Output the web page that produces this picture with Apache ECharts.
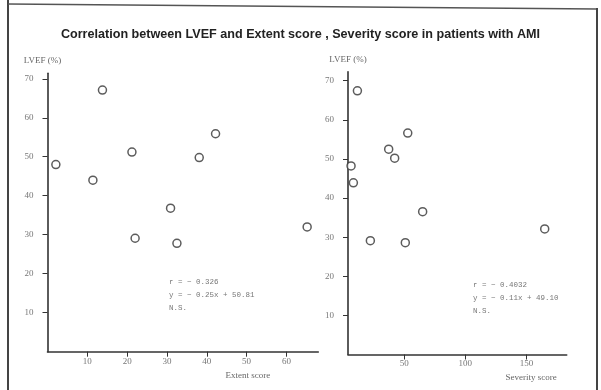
<!DOCTYPE html>
<html>
<head>
<meta charset="utf-8">
<script src="https://cdn.jsdelivr.net/npm/echarts@6/dist/echarts.min.js"></script>
<style>
  html, body { margin: 0; padding: 0; background: #fff; }
  #chart { width: 601px; height: 390px; }
</style>
</head>
<body>
<div id="chart"></div>
<script>
// ---- Data ----
const titleText = 'Correlation between LVEF and Extent score , Severity score in patients with AMI';

const extentScore   = [2.1, 13.8, 11.4, 21.2, 38.1, 42.2, 30.9, 22.0, 32.5, 65.2];
const lvefExtent    = [48.0, 67.1, 44.0, 51.2, 49.8, 55.9, 36.8, 29.1, 27.8, 32.0];

const severityScore = [6.5, 11.7, 8.4, 37.3, 42.2, 52.9, 65.1, 22.3, 50.9, 165.0];
const lvefSeverity  = [48.2, 67.4, 43.9, 52.5, 50.2, 56.6, 36.5, 29.1, 28.6, 32.1];

const lvefTicks     = [10, 20, 30, 40, 50, 60, 70];
const extentTicks   = [10, 20, 30, 40, 50, 60];
const severityTicks = [50, 100, 150];

const yAxisName = 'LVEF (%)';
const extentAxisName = 'Extent score';
const severityAxisName = 'Severity score';

const extentStats   = ['r = − 0.326', 'y = − 0.25x + 50.81', 'N.S.'];
const severityStats = ['r = − 0.4032', 'y = − 0.11x + 49.10', 'N.S.'];

// ---- Chart ----
const chart = echarts.init(document.getElementById('chart'), null, { renderer: 'canvas' });

const axisColor = '#333';
const labelColor = '#777';
const labelFont = 'Liberation Serif';

function xAxisCfg(idx, min, max, ticks, name, gap) {
  return {
    type: 'value', gridIndex: idx, min: min, max: max,
    name: name, nameLocation: 'end', nameGap: gap,
    nameTextStyle: { color: '#666', fontFamily: labelFont, fontSize: 9, align: 'right', verticalAlign: 'top', padding: [19, 0, 0, 0] },
    axisLine: { show: true, onZero: false, lineStyle: { color: axisColor, width: 1.6 } },
    axisTick: { show: true, inside: false, length: 5, customValues: ticks, lineStyle: { color: axisColor, width: 1 } },
    axisLabel: { customValues: ticks, color: labelColor, fontFamily: labelFont, fontSize: 9, margin: 5 },
    splitLine: { show: false }
  };
}
function yAxisCfg(idx, max, pad) {
  return {
    type: 'value', gridIndex: idx, min: 0, max: max,
    name: yAxisName, nameLocation: 'end', nameGap: 8,
    nameTextStyle: { color: '#666', fontFamily: labelFont, fontSize: 9, align: 'center', padding: pad },
    axisLine: { show: true, onZero: false, lineStyle: { color: axisColor, width: 1.6 } },
    axisTick: { show: true, inside: false, length: 5, customValues: lvefTicks, lineStyle: { color: axisColor, width: 1 } },
    axisLabel: { customValues: lvefTicks, color: labelColor, fontFamily: labelFont, fontSize: 9, margin: 14 },
    splitLine: { show: false }
  };
}

function statsText(x, yTop, lines) {
  return lines.map((t, i) => ({
    type: 'text', left: x, top: yTop + i * 13,
    style: { text: t, fill: '#777', font: '7.5px "Liberation Mono"' },
    silent: true
  }));
}

const markerStyle = { color: '#fff', borderColor: '#333', borderWidth: 1.5 };

chart.setOption({
  animation: false,
  backgroundColor: '#fff',
  title: {
    text: titleText, left: 'center', top: 23,
    textStyle: { fontFamily: 'Liberation Sans', fontSize: 12.6, fontWeight: 'bold', color: '#222' }
  },
  grid: [
    { left: 47.5, top: 73.3, width: 270.8, height: 278.4, outerBoundsMode: 'none', containLabel: false },
    { left: 348, top: 71.7, width: 218.7, height: 282.8, outerBoundsMode: 'none', containLabel: false }
  ],
  xAxis: [
    xAxisCfg(0, 0, 68, extentTicks, extentAxisName, -48),
    xAxisCfg(1, 4, 183, severityTicks, severityAxisName, -10)
  ],
  yAxis: [
    yAxisCfg(0, 71.4, [0, 10, 0, 0]),
    yAxisCfg(1, 72.3, [0, 0, 0, 0])
  ],
  series: [
    {
      type: 'scatter', xAxisIndex: 0, yAxisIndex: 0,
      data: extentScore.map((x, i) => [x, lvefExtent[i]]),
      symbol: 'circle', symbolSize: 8, itemStyle: markerStyle
    },
    {
      type: 'scatter', xAxisIndex: 1, yAxisIndex: 1,
      data: severityScore.map((x, i) => [x, lvefSeverity[i]]),
      symbol: 'circle', symbolSize: 8, itemStyle: markerStyle
    }
  ],
  graphic: [
    { type: 'polyline', shape: { points: [[8, 0], [8, 390]] }, style: { stroke: '#444', lineWidth: 2, fill: null }, silent: true },
    { type: 'polyline', shape: { points: [[8, 4], [597, 9]] }, style: { stroke: '#555', lineWidth: 1.5, fill: null }, silent: true },
    { type: 'polyline', shape: { points: [[597, 8], [597, 390]] }, style: { stroke: '#444', lineWidth: 2, fill: null }, silent: true }
  ].concat(statsText(169, 278, extentStats), statsText(473, 281, severityStats))
});
</script>
</body>
</html>
